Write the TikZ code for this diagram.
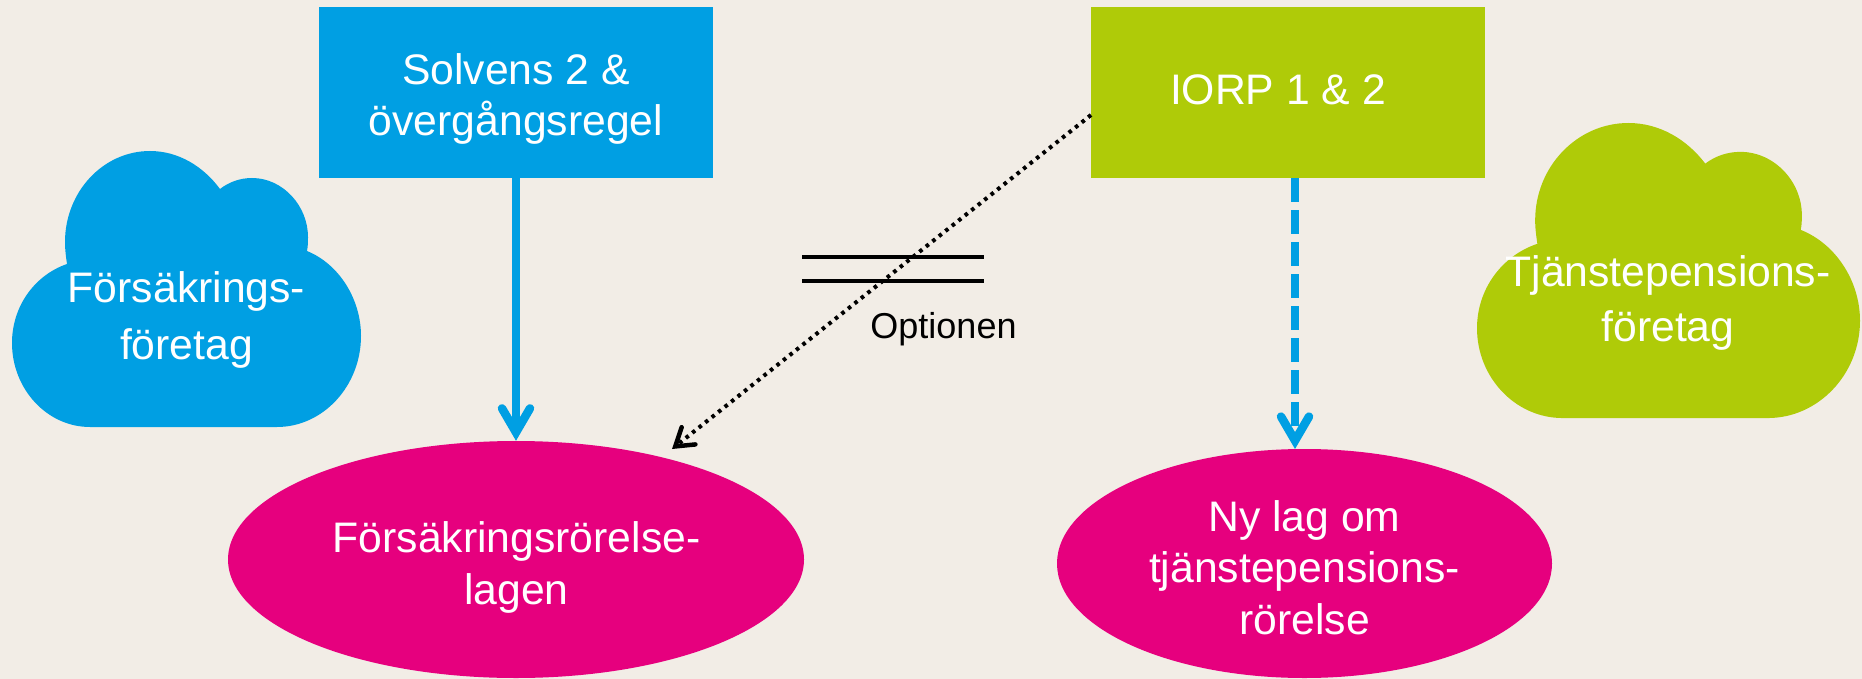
\documentclass[tikz,border=0pt]{standalone}
\usepackage{fontspec}
\setmainfont{Liberation Sans}
\usepackage{xcolor}
\usetikzlibrary{arrows.meta,shapes.geometric}

\definecolor{bgbeige}{HTML}{F2EDE6}
\definecolor{skyblue}{HTML}{009FE3}
\definecolor{limegreen}{HTML}{AFCB08}
\definecolor{hotpink}{HTML}{E6007E}

\tikzset{
  regelbox/.style={rectangle,inner sep=0pt,minimum width=394pt,minimum height=171pt},
  lagform/.style={ellipse,inner sep=0pt,fill=hotpink},
  vit/.style={text=white,align=center,inner sep=0pt,font=\fontsize{42.7}{#1}\selectfont},
  cloudform/.pic={
    \path[pic actions] (78,276) -- (265,276)
      .. controls (311,276) and (349,235) .. (349,185)
      .. controls (349,148) and (327,113) .. (295,100)
      .. controls (296,95) and (296,91) .. (296,86)
      .. controls (296,55) and (271,27) .. (240,27)
      .. controls (228,27) and (217,31) .. (208,38)
      .. controls (191,15) and (166,0) .. (138,0)
      .. controls (91,0) and (53,41) .. (53,91)
      .. controls (53,99) and (54,106) .. (55,113)
      .. controls (23,124) and (0,155) .. (0,192)
      .. controls (0,238) and (35,276) .. (78,276) -- cycle;
  }
}

\begin{document}
\begin{tikzpicture}[x=1pt,y=-1pt,>={Straight Barb[length=24pt,width=28pt,line cap=round,line join=miter]},
    flow/.style={->,draw=skyblue,line width=8.5pt},
    option/.style={->,draw=black,line width=4pt,dash pattern=on 3.6pt off 4.7pt,
      >={Straight Barb[length=17pt,width=22pt,line width=4.5pt,line cap=round,line join=miter]}}]
  \path[use as bounding box,fill=bgbeige] (0,0) rectangle (1862,679);

  \pic[fill=skyblue] at (12,151) {cloudform};
  \pic[fill=limegreen,xscale=1.0974,yscale=1.069] at (1477,123) {cloudform};

  \node[regelbox,fill=skyblue] (solvens) at (516,92.5) {};
  \node[regelbox,fill=limegreen] (iorp) at (1287.5,92.5) {};
  \node[lagform,minimum width=576pt,minimum height=237pt] (forsakring) at (516,559.5) {};
  \node[lagform,minimum width=495pt,minimum height=229pt] (nylag) at (1304.5,563.5) {};

  \coordinate (dashstart) at (1295,178);
  \coordinate (dashend) at (1295,449);
  \coordinate (optstart) at (1091,115);
  \coordinate (optend) at (672,449);
  \coordinate (neqa) at (802,257);
  \coordinate (neqb) at (984,257);
  \coordinate (neqc) at (802,281);
  \coordinate (neqd) at (984,281);

  \draw[line width=4.5pt] (neqa) -- (neqb) (neqc) -- (neqd);

  \path
    (solvens) edge [flow] (forsakring)
    (dashstart) edge [flow,dash pattern=on 24pt off 8pt] (dashend)
    (optstart) edge [option] (optend);

  \node[vit=57] (forsakringstext) at (186.5,319.5) {Försäkrings-\\företag};
  \node[vit=55] (tjanstetext) at (1668,303) {Tjänstepensions-\\företag};
  \node[vit=51] (solvenstext) at (516,99) {Solvens 2 \&\\övergångsregel};
  \node[vit=51] (iorptext) at (1278,90) {IORP 1 \& 2};
  \node[vit=52] (lagentext) at (516.5,567) {Försäkringsrörelse-\\lagen};
  \node[vit=51.5] (nylagtext) at (1304.5,567.5) {Ny lag om\\tjänstepensions-\\rörelse};
  \node[anchor=base,inner sep=0pt,font=\fontsize{36}{43}\selectfont] (optionen) at (943.5,338.5) {Optionen};
\end{tikzpicture}
\end{document}
